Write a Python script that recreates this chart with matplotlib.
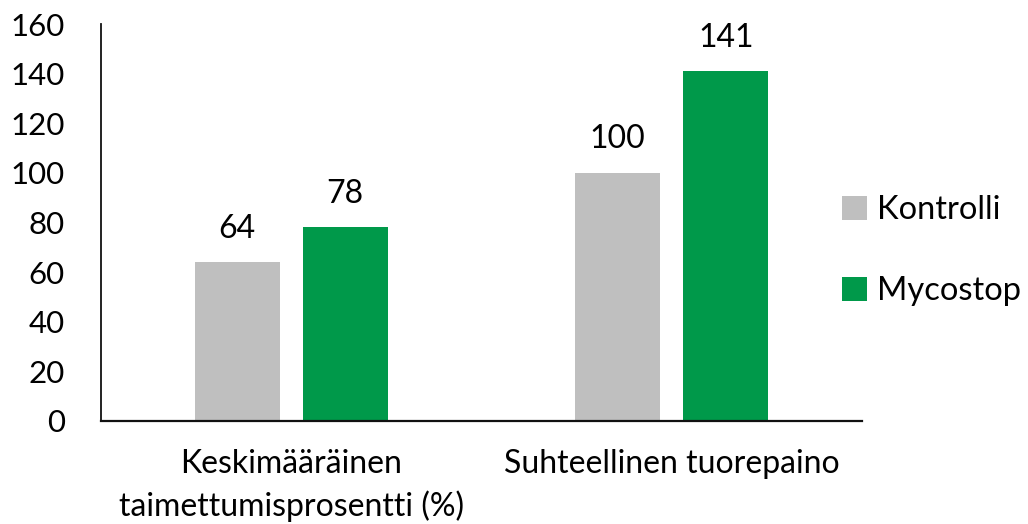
import matplotlib
matplotlib.use("Agg")
import matplotlib.pyplot as plt
import numpy as np

categories = ["Keskimääräinen\ntaimettumisprosentti (%)", "Suhteellinen tuorepaino"]
series_names = ["Kontrolli", "Mycostop"]
kontrolli = [64, 100]
mycostop = [78, 141]
colors = ["#BFBFBF", "#00994A"]

plt.rcParams['font.family'] = ['Lato', 'DejaVu Sans']

fig = plt.figure(figsize=(10.28, 5.24), dpi=100)
W, H = 1028, 524
ax = fig.add_axes([101 / W, 1 - 421 / H, 761 / W, (421 - 24) / H])

x = np.arange(len(categories))
bw = 0.223
off = 0.142
vals = [kontrolli, mycostop]
for i, (name, v, c) in enumerate(zip(series_names, vals, colors)):
    pos = x + (-off if i == 0 else off)
    bars = ax.bar(pos, v, width=bw, color=c, label=name)
    for b, val in zip(bars, v):
        ax.text(b.get_x() + b.get_width() / 2, val + 7.5, f"{val}",
                ha='center', va='bottom', fontsize=23, color='#000000')

ax.set_xlim(-0.5, 1.5)
ax.set_ylim(0, 160)
ax.set_yticks(range(0, 161, 20))
ax.set_xticks(x)
ax.set_xticklabels(categories, fontsize=23, color='#000000', linespacing=1.45)
ax.tick_params(axis='both', length=0)
ax.tick_params(axis='y', labelsize=22.5, labelcolor='#000000', pad=26)
ax.tick_params(axis='x', pad=20)
for lbl in ax.get_yticklabels():
    lbl.set_horizontalalignment('right')
for s in ['top', 'right']:
    ax.spines[s].set_visible(False)
ax.spines['left'].set_color('#111111')
ax.spines['bottom'].set_color('#111111')
ax.spines['left'].set_linewidth(1.3)
ax.spines['bottom'].set_linewidth(1.6)

leg = fig.legend(loc='upper left', bbox_to_anchor=(813 / W, 1 - 166 / H),
                 frameon=False, fontsize=23.5, handlelength=0.75, handleheight=0.75,
                 handletextpad=0.3, labelspacing=1.55)
for t in leg.get_texts():
    t.set_color('#000000')

fig.savefig("out.png", dpi=100)
